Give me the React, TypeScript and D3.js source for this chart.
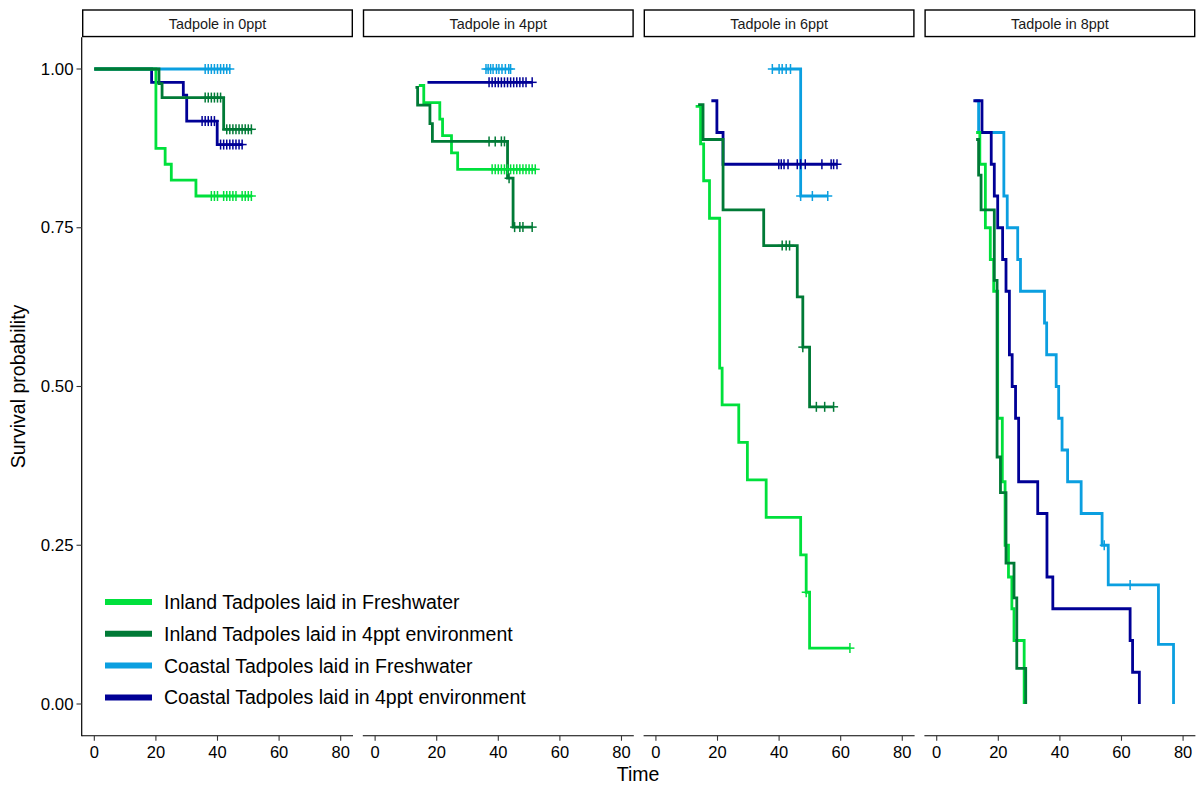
import React from "react";
import * as d3 from "d3";

// Facet titles (one panel per rearing salinity)
const panelTitles = ["Tadpole in 0ppt", "Tadpole in 4ppt", "Tadpole in 6ppt", "Tadpole in 8ppt"];

// Strata, in legend order
const groupNames = [
  "Inland Tadpoles laid in Freshwater",
  "Inland Tadpoles laid in 4ppt environment",
  "Coastal Tadpoles laid in Freshwater",
  "Coastal Tadpoles laid in 4ppt environment",
];
const groupColors = ["#00E03C", "#007A36", "#0B9FE0", "#000096"];

const xTicks = [0, 20, 40, 60, 80];
const yTicks = [0, 0.25, 0.5, 0.75, 1];

// Kaplan-Meier steps per panel: times where the estimate changes, the survival after each change,
// and censoring times.
const inlandFreshTimes = [
  [0, 20, 23, 25, 33],
  [14.2, 15.8, 21, 21.9, 24.8, 26.8],
  [12.9, 14.5, 15.5, 17.4, 20.7, 21.5, 26.9, 29.7, 35.8, 47, 48.8, 49.9],
  [12.8, 14, 15.8, 17.4, 18.5, 19.8, 21.3, 22.2, 23.3, 24.4, 25.1, 28.4],
];
const inlandFreshSurv = [
  [1, 0.875, 0.85, 0.825, 0.8],
  [0.974, 0.947, 0.921, 0.895, 0.868, 0.842],
  [0.941, 0.882, 0.824, 0.765, 0.529, 0.471, 0.412, 0.353, 0.294, 0.235, 0.176, 0.088],
  [0.9, 0.85, 0.75, 0.7, 0.65, 0.45, 0.35, 0.25, 0.2, 0.15, 0.1, 0],
];
const inlandFreshCensor = [
  [38, 39, 40, 42, 43, 44, 45, 46, 48, 49, 50, 51],
  [38, 39, 40, 41, 42, 43, 44, 45, 46, 47, 48, 49, 50, 51, 52],
  [48.8, 63],
  [],
];

const inland4pptTimes = [
  [0, 21, 22, 42],
  [13.1, 13.8, 17.8, 18.6, 43, 44.8],
  [13.7, 15.3, 21.8, 35, 45.9, 47.7, 49.9],
  [12.8, 13.6, 14.4, 18.7, 19.6, 20.7, 22.5, 25.1, 26, 28.9],
];
const inland4pptSurv = [
  [1, 0.977, 0.955, 0.905],
  [0.971, 0.943, 0.914, 0.886, 0.828, 0.751],
  [0.944, 0.889, 0.778, 0.722, 0.641, 0.562, 0.468],
  [0.889, 0.833, 0.778, 0.667, 0.389, 0.333, 0.222, 0.167, 0.056, 0],
];
const inland4pptCensor = [
  [36, 37, 38, 39, 40, 41, 43, 44, 45, 46, 47, 48, 49, 50, 51],
  [37, 39, 41, 42, 43.5, 45.3, 47, 48, 51],
  [41, 42.3, 43.4, 47.7, 52.1, 54.8, 57.7],
  [],
];

const coastalFreshTimes = [
  [0],
  [36],
  [37.8, 47],
  [12.5, 13.6, 21.8, 22.9, 26.3, 27.2, 35, 35.7, 38.8, 39.6, 40.7, 42.5, 46.9, 53.7, 55.7, 72, 76.9],
];
const coastalFreshSurv = [
  [1],
  [1],
  [1, 0.8],
  [0.95, 0.9, 0.8, 0.75, 0.7, 0.65, 0.6, 0.55, 0.5, 0.45, 0.4, 0.35, 0.3, 0.25, 0.1875, 0.094, 0],
];
const coastalFreshCensor = [
  [36, 37, 38, 39, 40, 41, 42, 43, 44],
  [36, 36.7, 37.5, 38.3, 39.4, 40.2, 41.2, 42.3, 43.4, 44],
  [37.8, 40, 41, 42.3, 43.7, 47, 50.8, 55.8],
  [54.4, 62.8],
];

const coastal4pptTimes = [
  [0, 18.6, 28.9, 30, 39.9],
  [17],
  [18, 19.8, 21.8],
  [11.9, 14.7, 17.7, 18.7, 19.8, 21.4, 22.5, 23.6, 24.5, 25.6, 26.6, 32.8, 35.8, 37.7, 62.8, 63.6, 65.8],
];
const coastal4pptSurv = [
  [1, 0.979, 0.959, 0.918, 0.881],
  [0.979],
  [0.95, 0.9, 0.85],
  [0.95, 0.9, 0.85, 0.8, 0.75, 0.7, 0.65, 0.55, 0.5, 0.45, 0.35, 0.3, 0.2, 0.15, 0.1, 0.05, 0],
];
const coastal4pptCensor = [
  [35, 36, 37, 38, 39, 41, 42, 43, 44, 45, 46, 47, 48],
  [37, 38, 39, 40, 41, 42, 43, 44, 45, 46, 47, 48, 49, 51],
  [39.9, 40.7, 41.6, 42.9, 45.9, 47, 48.5, 53.9, 56.9, 57.7, 58.8],
  [],
];

const groupTimes = [inlandFreshTimes, inland4pptTimes, coastalFreshTimes, coastal4pptTimes];
const groupSurv = [inlandFreshSurv, inland4pptSurv, coastalFreshSurv, coastal4pptSurv];
const groupCensor = [inlandFreshCensor, inland4pptCensor, coastalFreshCensor, coastal4pptCensor];

// Lines are layered so that the inland 4ppt curve sits on top
const drawOrder = [2, 3, 0, 1];

const W = 1199;
const H = 787;
const panelLeft0 = 82;
const panelStep = 280.8;
const panelW = 271;
const panelTop = 37.25;
const panelBottom = 735.75;
const stripTop = 10;
const font = "'Liberation Sans', Arial, Helvetica, sans-serif";

const x = d3.scaleLinear().domain([-4, 84]).range([0, panelW]);
const y = d3.scaleLinear().domain([-0.05, 1.05]).range([panelBottom, panelTop]);

const stepLine = d3
  .line<[number, number]>()
  .x((d) => x(d[0]))
  .y((d) => y(d[1]))
  .curve(d3.curveStepAfter);

function survAt(times: number[], surv: number[], t: number) {
  let s = surv[0];
  for (let i = 0; i < times.length; i++) if (times[i] <= t) s = surv[i];
  return s;
}

function curvePoints(times: number[], surv: number[], censor: number[]): [number, number][] {
  const pts: [number, number][] = times.map((t, i) => [t, surv[i]]);
  const end = Math.max(times[times.length - 1], censor.length ? censor[censor.length - 1] : -Infinity);
  if (end > times[times.length - 1]) pts.push([end, surv[surv.length - 1]]);
  return pts;
}

export default function App() {
  const cross = 4.5;
  return (
    <svg
      width={W}
      height={H}
      style={{ position: "absolute", left: 0, top: 0, background: "#fff" }}
      fontFamily={font}
    >
      <rect x={0} y={0} width={W} height={H} fill="#fff" />
      {panelTitles.map((title, p) => {
        const left = panelLeft0 + p * panelStep;
        return (
          <g key={title} transform={`translate(${left},0)`}>
            {/* strip */}
            <rect
              x={0.7}
              y={stripTop}
              width={panelW - 1.4}
              height={panelTop - stripTop - 0.7}
              fill="#fff"
              stroke="#000"
              strokeWidth={1.4}
            />
            <text
              x={panelW / 2}
              y={(stripTop + panelTop) / 2}
              textAnchor="middle"
              dominantBaseline="central"
              fontSize={14.4}
              fill="#1a1a1a"
            >
              {title}
            </text>

            {/* survival curves */}
            {drawOrder.map((g) => (
              <path
                key={`l${g}`}
                d={stepLine(curvePoints(groupTimes[g][p], groupSurv[g][p], groupCensor[g][p])) || ""}
                fill="none"
                stroke={groupColors[g]}
                strokeWidth={2.8}
                strokeLinejoin="miter"
              />
            ))}
            {/* censoring marks */}
            {drawOrder.map((g) => (
              <g key={`c${g}`} stroke={groupColors[g]} strokeWidth={1.5}>
                {groupCensor[g][p].map((t, i) => {
                  const cx = x(t);
                  const cy = y(survAt(groupTimes[g][p], groupSurv[g][p], t));
                  return (
                    <g key={i}>
                      <line x1={cx - cross} x2={cx + cross} y1={cy} y2={cy} />
                      <line x1={cx} x2={cx} y1={cy - cross - 0.5} y2={cy + cross + 0.5} />
                    </g>
                  );
                })}
              </g>
            ))}

            {/* x axis */}
            <line x1={0} x2={panelW} y1={panelBottom} y2={panelBottom} stroke="#000" strokeWidth={1.2} />
            {xTicks.map((t) => (
              <g key={t} transform={`translate(${x(t)},0)`}>
                <line y1={panelBottom} y2={panelBottom + 5} stroke="#333" strokeWidth={1.1} />
                <text y={752} textAnchor="middle" dominantBaseline="central" fontSize={16.5} fill="#000">
                  {t}
                </text>
              </g>
            ))}

            {/* y axis on the first panel only */}
            {p === 0 && (
              <g>
                <line x1={-0.3} x2={-0.3} y1={panelTop} y2={panelBottom + 0.6} stroke="#000" strokeWidth={1.2} />
                {yTicks.map((v) => (
                  <g key={v}>
                    <line x1={-5.5} x2={0} y1={y(v)} y2={y(v)} stroke="#333" strokeWidth={1.1} />
                    <text
                      x={-8.5}
                      y={y(v)}
                      textAnchor="end"
                      dominantBaseline="central"
                      fontSize={16.8}
                      fill="#000"
                    >
                      {d3.format(".2f")(v)}
                    </text>
                  </g>
                ))}
              </g>
            )}
          </g>
        );
      })}

      {/* legend inside the first panel */}
      {groupNames.map((name, i) => {
        const cy = 602 + i * 31.8;
        return (
          <g key={name}>
            <line x1={105} x2={152} y1={cy} y2={cy} stroke={groupColors[i]} strokeWidth={6} />
            <text x={164} y={cy} dominantBaseline="central" fontSize={19.5} fill="#000">
              {name}
            </text>
          </g>
        );
      })}

      {/* axis titles */}
      <text x={638} y={774} textAnchor="middle" dominantBaseline="central" fontSize={19.5} fill="#000">
        Time
      </text>
      <text
        transform={`translate(18,${(panelTop + panelBottom) / 2}) rotate(-90)`}
        textAnchor="middle"
        dominantBaseline="central"
        fontSize={19.5}
        fill="#000"
      >
        Survival probability
      </text>
    </svg>
  );
}
